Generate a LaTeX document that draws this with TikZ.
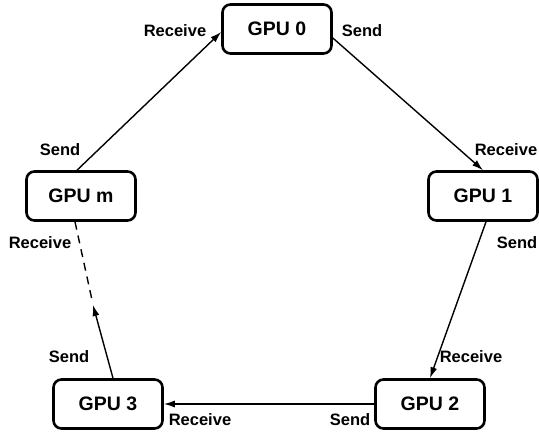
\documentclass[tikz,border=0pt]{standalone}
\usepackage{fontspec}
\setmainfont{Liberation Sans}
\usetikzlibrary{arrows.meta,calc}
\tikzset{
  gpu/.style={draw, line width=2.6pt, rounded corners=8pt, minimum width=109pt, minimum height=49pt, inner sep=0pt, font=\fontsize{19.5}{21}\selectfont\bfseries},
  lbl/.style={inner sep=0pt, font=\fontsize{16.5}{18}\selectfont\bfseries},
  conn/.style={line width=1.4pt, -{Latex[length=11pt,width=7pt]}},
}
\begin{document}
\begin{tikzpicture}[x=1pt,y=-1pt]
\useasboundingbox (0,0) rectangle (539,436);
\node[gpu] (g0) at (277,29) {GPU 0};
\node[gpu] (g1) at (483,196) {GPU 1};
\node[gpu] (g2) at (430,404) {GPU 2};
\node[gpu] (g3) at (108,404) {GPU 3};
\node[gpu] (gm) at (81,196) {GPU m};
\coordinate (mid) at (93,305);
\coordinate (dend) at (92,300);
\draw[conn] ($(g0.east)+(0,9)$) -- (g1.north);
\draw[conn] ($(g1.south)+(3,0)$) -- (g2.north);
\draw[conn] (g2.west) -- (g3.east);
\draw[conn] ($(g3.north)+(5,0)$) -- (mid);
\draw[line width=1.4pt, dash pattern=on 8pt off 6pt] ($(gm.south)+(-6,0)$) -- (dend);
\draw[conn] ($(gm.north)+(-4,0)$) -- ($(g0.west)+(0,3)$);
\node[lbl] (r0) at (175,31) {Receive};
\node[lbl] (s0) at (362,31) {Send};
\node[lbl] (sm) at (60,150) {Send};
\node[lbl] (rm) at (40,243) {Receive};
\node[lbl] (r1) at (506,150) {Receive};
\node[lbl] (s1) at (517,243) {Send};
\node[lbl] (r2) at (471,357) {Receive};
\node[lbl] (s2) at (350,420) {Send};
\node[lbl] (s3) at (69,357) {Send};
\node[lbl] (r3) at (200,420) {Receive};
\end{tikzpicture}
\end{document}
